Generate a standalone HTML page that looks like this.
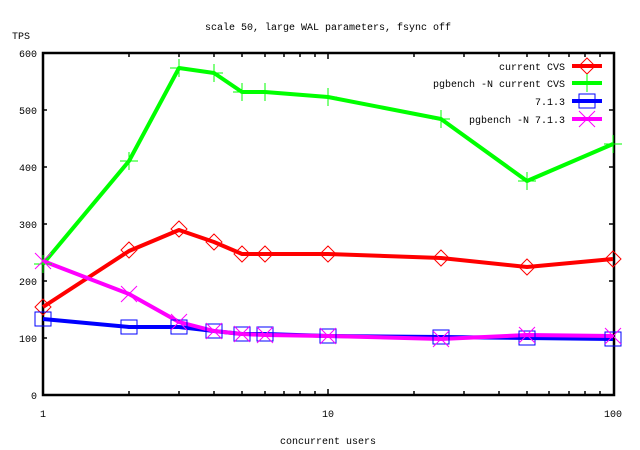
<!DOCTYPE html>
<html><head><meta charset="utf-8"><style>
html,body{margin:0;padding:0;background:#fff;}
svg{display:block;}
text{font-family:"Liberation Mono",monospace;font-size:10px;fill:#000;}
</style></head><body>
<svg width="640" height="450" viewBox="0 0 640 450" xmlns="http://www.w3.org/2000/svg">
<rect width="640" height="450" fill="#fff"/>
<text x="328" y="30" text-anchor="middle">scale 50, large WAL parameters, fsync off</text>
<text x="12" y="39">TPS</text>
<g text-anchor="end">
<text x="37" y="57">600</text>
<text x="37" y="114">500</text>
<text x="37" y="171">400</text>
<text x="37" y="228">300</text>
<text x="37" y="285">200</text>
<text x="37" y="342">100</text>
<text x="37" y="399">0</text>
</g>
<g text-anchor="middle">
<text x="43" y="417">1</text>
<text x="328" y="417">10</text>
<text x="613" y="417">100</text>
<text x="328" y="444">concurrent users</text>
</g>
<g stroke="#000" stroke-width="1.5">
<path d="M43 110h4M43 167h4M43 224h4M43 281h4M43 338h4M613 110h-4M613 167h-4M613 224h-4M613 281h-4M613 338h-4"/>
<path d="M129 395v-4M179 395v-4M214 395v-4M242 395v-4M265 395v-4M284 395v-4M300 395v-4M315 395v-4M328 395v-6M414 395v-4M464 395v-4M499 395v-4M527 395v-4M549 395v-4M569 395v-4M585 395v-4M600 395v-4
M129 53v4M179 53v4M214 53v4M242 53v4M265 53v4M284 53v4M300 53v4M315 53v4M328 53v6M414 53v4M464 53v4M499 53v4M527 53v4M549 53v4M569 53v4M585 53v4M600 53v4"/>
</g>
<rect x="43" y="53" width="571" height="342" fill="none" stroke="#000" stroke-width="2.5"/>
<!-- legend -->
<g text-anchor="end">
<text x="565" y="70">current CVS</text>
<text x="565" y="87">pgbench -N current CVS</text>
<text x="565" y="105">7.1.3</text>
<text x="565" y="123">pgbench -N 7.1.3</text>
</g>
<g stroke-width="4">
<path d="M572 66h30" stroke="#f00"/>
<path d="M572 83h30" stroke="#0f0"/>
<path d="M572 101h30" stroke="#00f"/>
<path d="M572 119h30" stroke="#f0f"/>
</g>
<g fill="none" stroke-width="1">
<path d="M587 58l8 8l-8 8l-8-8z" stroke="#f00"/>
<path d="M587 74v18M578 83h18" stroke="#0f0"/>
<rect x="579" y="94" width="16" height="14" stroke="#00f"/>
<path d="M579 111l16 16M595 111l-16 16" stroke="#f0f"/>
</g>
<!-- series -->
<g fill="none" stroke-width="4" stroke-linejoin="round">
<polyline stroke="#0f0" points="43,264 129,161 179,68 214,73 242,92 265,92 328,97 441,119 527,181 613,144"/>
<polyline stroke="#f00" points="43,307 129,251 179,230 214,242 242,254 265,254 328,254 441,258 527,267 613,259"/>
<polyline stroke="#00f" points="43,319 129,327 179,327 214,331 242,334 265,334 328,336 441,337 527,338 613,339"/>
<polyline stroke="#f0f" points="43,261 129,294 179,322 214,331 242,334 265,335 328,336 441,339 527,335 613,336"/>
</g>
<g fill="none" stroke-width="1">
<g stroke="#0f0">
<path d="M43 255v18M34 264h18M129 152v18M120 161h18M179 59v18M170 68h18M214 64v18M205 73h18M242 83v18M233 92h18M265 83v18M256 92h18M328 88v18M319 97h18M441 110v18M432 119h18M527 172v18M518 181h18M613 135v18M604 144h18"/>
</g>
<g stroke="#f00">
<path d="M43 299l8 8l-8 8l-8-8zM129 242l8 8l-8 8l-8-8zM179 221l8 8l-8 8l-8-8zM214 234l8 8l-8 8l-8-8zM242 246l8 8l-8 8l-8-8zM265 246l8 8l-8 8l-8-8zM328 246l8 8l-8 8l-8-8zM441 250l8 8l-8 8l-8-8zM527 259l8 8l-8 8l-8-8zM613 251l8 8l-8 8l-8-8z"/>
</g>
<g stroke="#00f">
<rect x="35" y="312" width="16" height="14"/><rect x="121" y="320" width="16" height="14"/><rect x="171" y="320" width="16" height="14"/><rect x="206" y="324" width="16" height="14"/><rect x="234" y="327" width="16" height="14"/><rect x="257" y="327" width="16" height="14"/><rect x="320" y="329" width="16" height="14"/><rect x="433" y="330" width="16" height="14"/><rect x="519" y="331" width="16" height="14"/><rect x="605" y="332" width="16" height="14"/>
</g>
<g stroke="#f0f">
<path d="M35 253l16 16M51 253l-16 16M121 286l16 16M137 286l-16 16M171 314l16 16M187 314l-16 16M206 323l16 16M222 323l-16 16M234 326l16 16M250 326l-16 16M257 327l16 16M273 327l-16 16M320 328l16 16M336 328l-16 16M433 331l16 16M449 331l-16 16M519 327l16 16M535 327l-16 16M605 328l16 16M621 328l-16 16"/>
</g>
</g>
</svg>
</body></html>
